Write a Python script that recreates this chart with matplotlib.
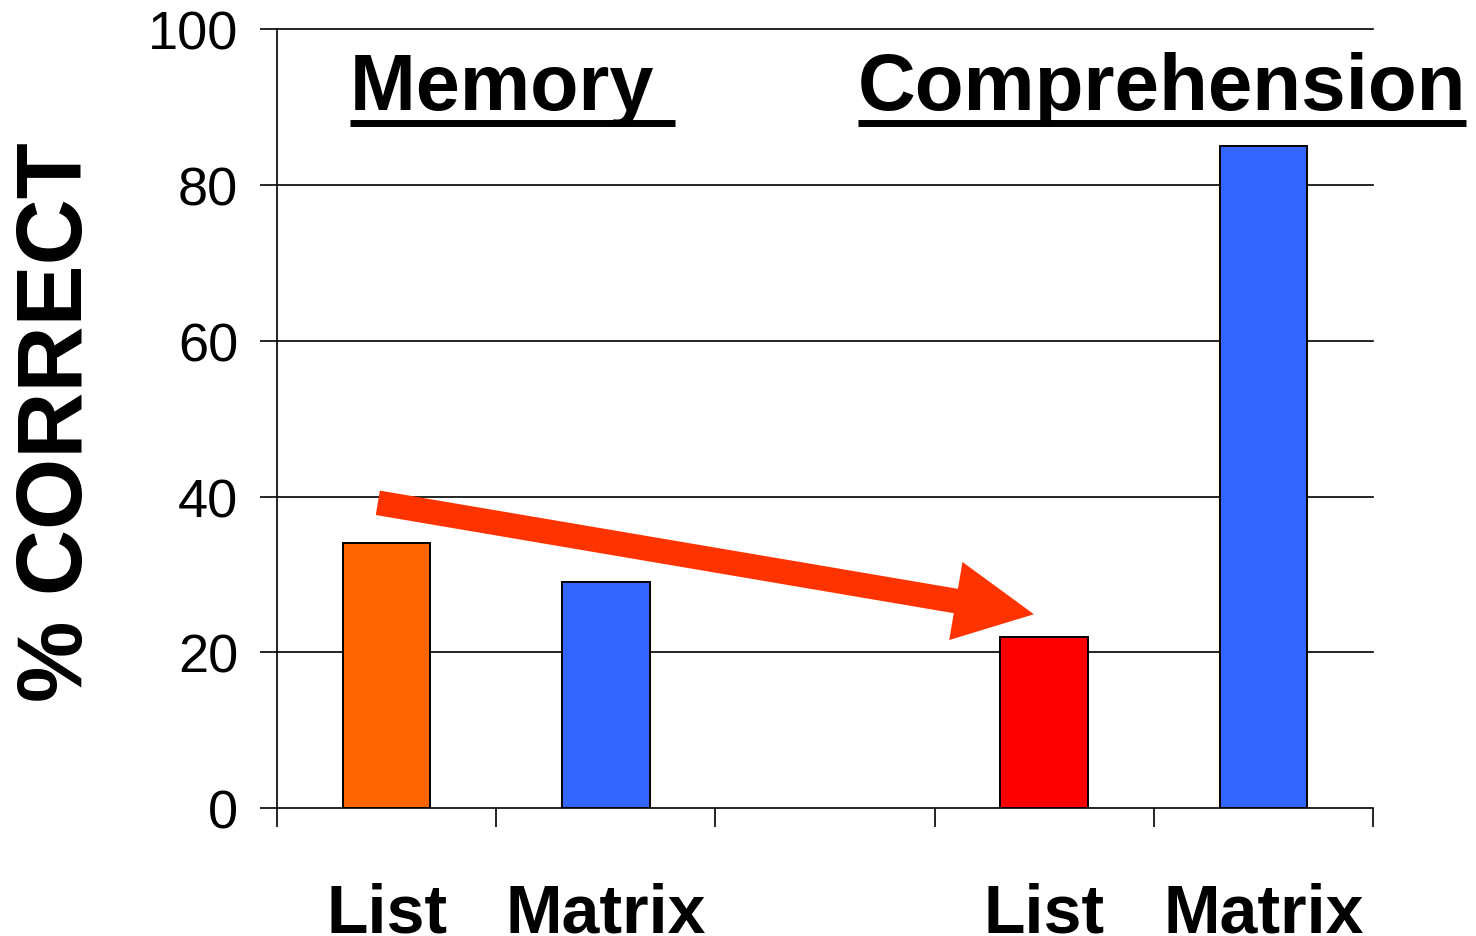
import numpy as np
import matplotlib.pyplot as plt
from matplotlib.lines import Line2D

plt.rcParams['font.family'] = ['Liberation Sans', 'DejaVu Sans']

# % correct for each presentation format, per task
groups = ["Memory ", "Comprehension"]
formats = ["List", "Matrix"]
memory_pct = [34, 29]
comprehension_pct = [22, 85]
bar_colors = ["#FF6600", "#3366FF", "#FF0000", "#3366FF"]
yticks = [0, 20, 40, 60, 80, 100]

values = memory_pct + comprehension_pct
labels = formats + formats
# two bars per task, one empty slot between the tasks
slots = np.array([0, 1, 3, 4])

fig = plt.figure(figsize=(14.76, 9.37), dpi=100)
ax = fig.add_axes([0.18767, 0.13628, 0.74255, 0.8317])

ax.bar(slots, values, width=0.4, color=bar_colors,
       edgecolor='black', linewidth=1.4, zorder=3)

ax.set_xlim(-0.5, 4.5)
ax.set_ylim(0, 100)

for y in yticks:
    ax.axhline(y, color='black', linewidth=1.2, zorder=1, clip_on=False)

# tick marks on the slot boundaries, labels under the bars
ax.set_xticks(np.arange(-0.5, 5.0, 1.0))
ax.set_xticklabels([])
ax.set_xticks(slots, minor=True)
ax.set_xticklabels(labels, minor=True, fontsize=49, fontweight='bold')
ax.tick_params(axis='x', which='major', direction='out', length=14,
               width=1.2, color='black')
ax.tick_params(axis='x', which='minor', length=0, pad=53)

ax.set_yticks(yticks)
ax.set_yticklabels([str(v) for v in yticks], fontsize=39)
ax.tick_params(axis='y', direction='out', length=12, width=1.2, pad=16)

for side in ['top', 'right', 'bottom']:
    ax.spines[side].set_visible(False)
ax.spines['left'].set_linewidth(1.2)

fig.text(58 / 1476, 1 - 422 / 937, "% CORRECT", rotation=90,
         fontsize=66, fontweight='bold', ha='center', va='center')

# task headings, underlined
heads = []
heads.append(ax.text(-0.167, 89.7, groups[0], fontsize=57, fontweight='bold',
                     ha='left', va='baseline', clip_on=False))
heads.append(ax.text(2.15, 89.7, groups[1], fontsize=57.5, fontweight='bold',
                     ha='left', va='baseline', clip_on=False))

fig.canvas.draw()
renderer = fig.canvas.get_renderer()
for t in heads:
    bb = t.get_window_extent(renderer)
    x_base, y_base = ax.transData.transform((t.get_position()[0], 89.7))
    y_line = y_base - 14
    W, H = fig.bbox.width, fig.bbox.height
    fig.add_artist(Line2D([bb.x0 / W, bb.x1 / W], [y_line / H, y_line / H],
                          color='black', linewidth=5.0, solid_capstyle='butt'))

# arrow from memory-list bar down to comprehension-list bar
ax.annotate("", xy=(slots[2] - 0.047, comprehension_pct[0] + 2.9),
            xytext=(slots[0] - 0.04, memory_pct[0] + 5.2),
            arrowprops=dict(arrowstyle="simple,head_length=5.7,head_width=5.7,tail_width=1.78",
                            mutation_scale=10, color="#FF3300",
                            shrinkA=0, shrinkB=0, linewidth=0),
            zorder=4)

fig.savefig("out.png", dpi=100)
